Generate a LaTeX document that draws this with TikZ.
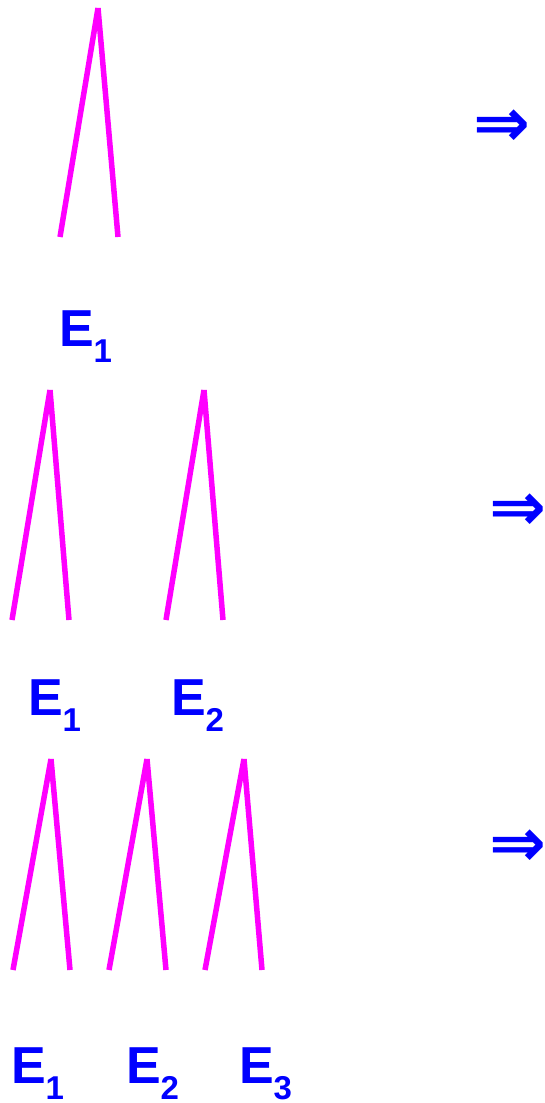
\documentclass[tikz,border=0pt]{standalone}
\usepackage{fontspec}
\setmainfont{Liberation Sans}
\newfontfamily\arrowfont{DejaVu Sans}
\definecolor{pinkleg}{rgb}{1,0,1}
\definecolor{lblblue}{rgb}{0,0,1}
\newcommand{\subnum}[1]{\raisebox{-16pt}{\fontsize{33}{33}\selectfont\bfseries #1}}
\tikzset{
  leg/.style={draw=pinkleg,line width=5.5pt,line cap=butt},
  lbl/.style={anchor=base west,inner sep=0pt,outer sep=0pt,text=lblblue,font=\fontsize{52}{52}\selectfont\bfseries},
  arrsym/.style={inner sep=0pt,text=lblblue,font=\arrowfont\bfseries\fontsize{68}{68}\selectfont}}
\begin{document}
\begin{tikzpicture}[x=1pt,y=-1pt]
\useasboundingbox (0,0) rectangle (544,1103);
% row 1
\coordinate (a1) at (98,8); \coordinate (a1l) at (60,237); \coordinate (a1r) at (118,237);
\draw[leg] (a1) -- (a1l); \draw[leg] (a1) -- (a1r);
\node[lbl] (l1) at (59,346) {E\subnum{1}};
\node[arrsym] (r1) at (502,128) {⇒};
% row 2
\coordinate (b1) at (50,390); \coordinate (b1l) at (12,620); \coordinate (b1r) at (69,620);
\coordinate (b2) at (204,390); \coordinate (b2l) at (166,620); \coordinate (b2r) at (223,620);
\draw[leg] (b1) -- (b1l); \draw[leg] (b1) -- (b1r);
\draw[leg] (b2) -- (b2l); \draw[leg] (b2) -- (b2r);
\node[lbl] (m1) at (28,715) {E\subnum{1}};
\node[lbl] (m2) at (171,715) {E\subnum{2}};
\node[arrsym] (r2) at (518,512) {⇒};
% row 3
\coordinate (c1) at (51,759); \coordinate (c1l) at (13,970); \coordinate (c1r) at (70,970);
\coordinate (c2) at (147,759); \coordinate (c2l) at (109,970); \coordinate (c2r) at (166,970);
\coordinate (c3) at (244,759); \coordinate (c3l) at (205,970); \coordinate (c3r) at (262,970);
\draw[leg] (c1) -- (c1l); \draw[leg] (c1) -- (c1r);
\draw[leg] (c2) -- (c2l); \draw[leg] (c2) -- (c2r);
\draw[leg] (c3) -- (c3l); \draw[leg] (c3) -- (c3r);
\node[lbl] (n1) at (11,1083) {E\subnum{1}};
\node[lbl] (n2) at (126,1083) {E\subnum{2}};
\node[lbl] (n3) at (239,1083) {E\subnum{3}};
\node[arrsym] (r3) at (518,848) {⇒};
\end{tikzpicture}
\end{document}
